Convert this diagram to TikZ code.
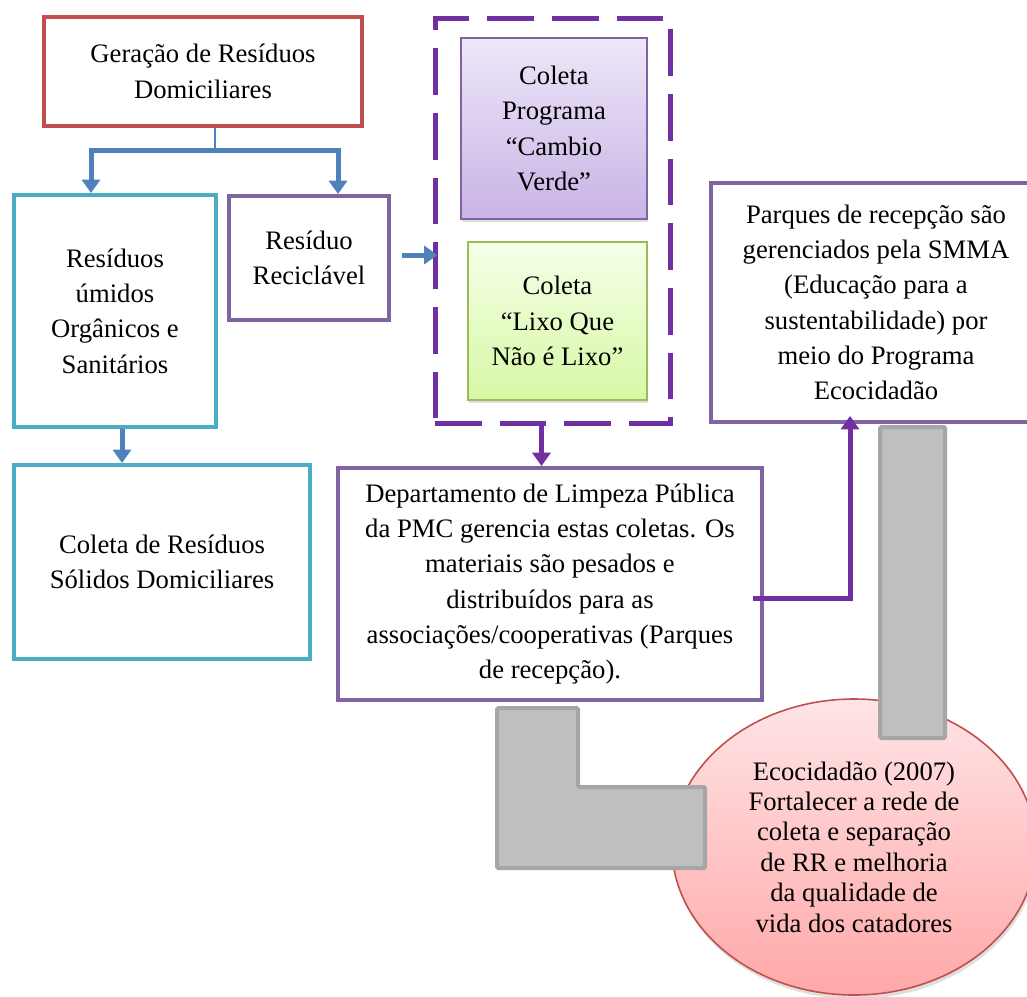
\documentclass[tikz,border=0pt]{standalone}
\usepackage{fontspec}
\setmainfont{Liberation Serif}
\usepackage{tikz}
\usetikzlibrary{shapes.geometric,arrows.meta,positioning,calc,shadows}
\definecolor{redb}{RGB}{192,80,77}
\definecolor{cyanb}{RGB}{75,172,198}
\definecolor{purb}{RGB}{128,100,162}
\definecolor{darkp}{RGB}{112,48,160}
\definecolor{bluel}{RGB}{79,129,189}
\definecolor{greenb}{RGB}{155,187,89}
\definecolor{grayf}{RGB}{191,191,191}
\definecolor{grayd}{RGB}{166,166,166}

\begin{document}
\begin{tikzpicture}[x=0.75pt,y=-0.75pt,
  font=\fontsize{20pt}{26.5pt}\selectfont,
  bx/.style={draw=#1,line width=3pt,fill=white,align=center,inner sep=0pt},
  sb/.style={draw=#1,line width=1.2pt,align=center,inner sep=0pt,
    drop shadow={opacity=0.25,shadow xshift=1pt,shadow yshift=-2pt}},
  ba/.style={-{Triangle[width=13.5pt,length=10pt]},line width=3.75pt,color=bluel},
  pa/.style={-{Triangle[width=13.5pt,length=10pt]},line width=3.75pt,color=darkp},
  gr/.style={draw=grayd,fill=grayf,line width=3pt,rounded corners=1pt}]
  \useasboundingbox (0,0) rectangle (1027,996);
  % left column
  \node[bx=redb,minimum width=238.5pt,minimum height=81.75pt] (ger) at (203,71.5) {Geração de Resíduos\\Domiciliares};
  \node[bx=cyanb,minimum width=151.5pt,minimum height=174pt] (umi) at (115,311) {Resíduos\\úmidos\\Orgânicos e\\Sanitários};
  \node[bx=purb,minimum width=120pt,minimum height=93pt] (rec) at (309,258) {Resíduo\\Reciclável};
  \node[bx=cyanb,minimum width=222pt,minimum height=145.5pt] (sol) at (162,562) {Coleta de Resíduos\\Sólidos Domiciliares};
  % dashed group
  \node[draw=darkp,line width=3.75pt,dash pattern=on 35pt off 13.5pt,minimum width=176.25pt,minimum height=303.75pt] (grp) at (552.5,220.5) {};
  \node[sb=purb,top color={rgb,255:red,238;green,230;blue,248},bottom color={rgb,255:red,200;green,180;blue,230},minimum width=139.5pt,minimum height=135.75pt] (cam) at (554,128.5) {Coleta\\Programa\\“Cambio\\Verde”};
  \node[sb=greenb,top color={rgb,255:red,245;green,255;blue,232},bottom color={rgb,255:red,215;green,248;blue,165},minimum width=134.25pt,minimum height=118.5pt] (lix) at (557.5,321) {Coleta\\“Lixo Que\\Não é Lixo”};
  % right part
  \node[bx=purb,minimum width=318pt,minimum height=174pt] (dep) at (550,584) {Departamento de Limpeza Pública\\da PMC gerencia estas coletas. Os\\materiais são pesados e\\distribuídos para as\\associações/cooperativas (Parques\\de recepção).};
  \node[bx=purb,minimum width=247.5pt,minimum height=179.25pt] (par) at (876,302.5) {Parques de recepção são\\gerenciados pela SMMA\\(Educação para a\\sustentabilidade) por\\meio do Programa\\Ecocidadão};
  \node[ellipse,draw=redb,line width=1.2pt,top color={rgb,255:red,255;green,228;blue,230},bottom color={rgb,255:red,255;green,168;blue,168},
    drop shadow={opacity=0.25,shadow xshift=1pt,shadow yshift=-3pt},
    minimum width=273pt,minimum height=222pt,inner sep=0pt,align=center,
    font=\fontsize{20pt}{22.8pt}\selectfont] (eco) at (854,847)
    {Ecocidadão (2007)\\Fortalecer a rede de\\coleta e separação\\de RR e melhoria\\da qualidade de\\vida dos catadores};
  % gray blocks
  \draw[gr] (880,427) rectangle (945,738);
  \draw[gr] (497,708) -- (578,708) -- (578,787) -- (705,787) -- (705,868) -- (497,868) -- cycle;
  % connectors
  \coordinate (fork) at (215,150);
  \coordinate (fl) at (91,150);
  \coordinate (fr) at (338,150);
  \coordinate (dn) at (122,0);
  \draw[bluel,line width=1.5pt] (fork) -- (fork |- ger.south);
  \draw[ba] (fork) -- (fl) -- (fl |- umi.north);
  \draw[ba] (fork) -- (fr) -- (fr |- rec.north);
  \draw[ba] (dn |- umi.south) -- (dn |- sol.north);
  \draw[ba] ($(rec.east)+(11,-3)$) -- ($(grp.west |- rec.east)+(5,-3)$);
  \draw[pa] ($(grp.south)+(-11,-3)$) -- ($(grp.south |- dep.north)+(-11,0)$);
  \draw[pa] ($(dep.east)+(-11,14)$) -| ($(par.south)+(-26,-8)$);
\end{tikzpicture}
\end{document}
